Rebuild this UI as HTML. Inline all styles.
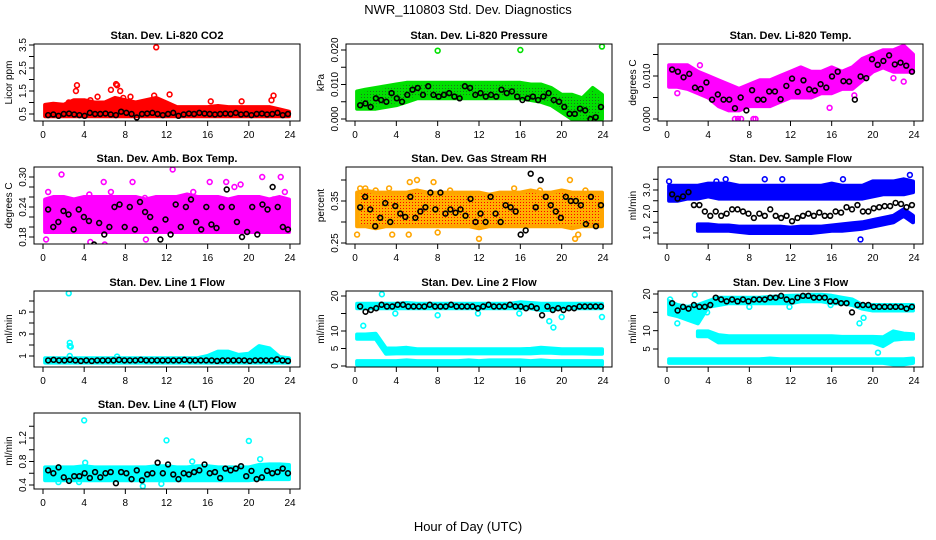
<!DOCTYPE html>
<html><head><meta charset="utf-8"><title>NWR_110803 Std. Dev. Diagnostics</title>
<style>
html,body{margin:0;padding:0;background:#fff;}
svg{display:block;font-family:"Liberation Sans",Arial,sans-serif;}
</style></head>
<body>
<svg id="chart" width="936" height="540" viewBox="0 0 936 540" xmlns="http://www.w3.org/2000/svg">
<defs>
<pattern id="pg" width="3" height="3" patternUnits="userSpaceOnUse"><rect width="3" height="3" fill="#00e000"/><rect x="1" y="1" width="1" height="1" fill="#207020"/></pattern>
<pattern id="po" width="3" height="3" patternUnits="userSpaceOnUse"><rect width="3" height="3" fill="#ffb000"/><rect x="1" y="1" width="1" height="1" fill="#ff0000"/></pattern>
</defs>
<text x="468" y="14" text-anchor="middle" font-size="13">NWR_110803  Std. Dev. Diagnostics</text>
<text x="468" y="531" text-anchor="middle" font-size="13">Hour of Day (UTC)</text>
</svg>
<script>
// ---------- data ----------
const xTicks = [0,4,8,12,16,20,24];
const bandHours = [0,1,2,3,4,5,6,7,8,9,10,11,12,13,14,15,16,17,18,19,20,21,22,23,24];

// P1 CO2
const co2Ticks = [0.5,1.0,1.5,2.0,2.5,3.0,3.5];
const co2Labels = ["0.5","","1.5","","2.5","","3.5"];
const co2Lo = [0.4,0.4,0.4,0.4,0.4,0.4,0.4,0.4,0.4,0.4,0.4,0.4,0.4,0.4,0.4,0.4,0.4,0.4,0.4,0.4,0.4,0.4,0.4,0.4,0.4];
const co2Hi = [0.9,0.95,0.9,1.1,1.1,1.0,1.0,1.2,1.1,1.0,1.1,1.2,1.0,0.8,0.8,0.8,0.8,0.85,0.8,0.8,0.8,0.8,0.8,0.7,0.6];
const co2Out = [[11,3.4],[3.3,1.75],[3.2,1.5],[7.2,1.75],[7.1,1.8],[6.6,1.55],[7.5,1.5],[10.8,1.3],[12.3,1.35],[8.5,1.25],[19.3,1.05],[22.4,1.3],[22.2,1.1],[16.3,1.05],[5.3,1.25],[4.6,1.1],[7.8,1.2],[2.5,1.0]];
const co2Black = [0.45,0.48,0.42,0.5,0.52,0.48,0.45,0.42,0.55,0.5,0.5,0.52,0.48,0.45,0.6,0.55,0.5,0.35,0.5,0.52,0.55,0.5,0.45,0.5,0.55,0.42,0.48,0.52,0.5,0.55,0.52,0.5,0.48,0.5,0.52,0.5,0.55,0.48,0.5,0.45,0.5,0.52,0.48,0.5,0.55,0.45,0.5];

// P2 pressure
const prTicks = [0,0.005,0.010,0.015,0.020];
const prLabels = ["0.000","","0.010","","0.020"];
const prLo = [0.003,0.003,0.003,0.0035,0.004,0.005,0.006,0.006,0.006,0.006,0.006,0.006,0.006,0.006,0.006,0.006,0.006,0.0055,0.005,0.004,0.002,0.000,-0.0005,-0.0005,0.000];
const prHi = [0.008,0.0085,0.009,0.0095,0.010,0.0105,0.0105,0.0105,0.0105,0.0105,0.0105,0.0105,0.0105,0.0105,0.0105,0.0105,0.0105,0.010,0.010,0.009,0.007,0.007,0.006,0.009,0.007];
const prOut = [[8,0.0198],[16,0.020],[23.9,0.021]];
const prBlack = [0.004,0.0045,0.0035,0.006,0.0055,0.005,0.0075,0.006,0.005,0.007,0.0085,0.009,0.007,0.0095,0.007,0.0065,0.007,0.0075,0.0065,0.006,0.0095,0.009,0.007,0.0075,0.0065,0.007,0.0065,0.0085,0.0075,0.008,0.0065,0.0055,0.006,0.0065,0.0055,0.0065,0.0075,0.0055,0.005,0.0035,0.0015,0.0015,0.003,0.0025,0.000,0.0005,0.0035];

// P3 temp
const tpTicks = [0,0.005,0.010,0.015];
const tpLabels = ["0.000","","0.010",""];
const tpLo = [0.0075,0.0075,0.007,0.006,0.005,0.003,0.002,0.002,0.003,0.003,0.003,0.004,0.005,0.005,0.005,0.006,0.006,0.007,0.007,0.009,0.011,0.012,0.011,0.011,0.011];
const tpHi = [0.0125,0.0125,0.0125,0.011,0.010,0.009,0.008,0.007,0.008,0.009,0.009,0.010,0.011,0.012,0.011,0.011,0.012,0.011,0.012,0.014,0.015,0.016,0.016,0.017,0.015];
const tpOut = [[6.6,0],[6.9,0],[7.2,0],[8.4,0],[8.6,0],[1.0,0.006],[3.2,0.0125],[15.8,0.0026],[22.0,0.0095],[23.0,0.0087],[18.2,0.0055]];
const tpBlack = [0.0115,0.011,0.0097,0.0105,0.0073,0.007,0.0085,0.0045,0.0057,0.0045,0.0045,0.0025,0.005,0.002,0.0067,0.0045,0.0045,0.0064,0.0064,0.0046,0.0077,0.0094,0.0063,0.009,0.0069,0.0066,0.0081,0.0073,0.0099,0.011,0.0088,0.0087,0.0045,0.0099,0.0095,0.0139,0.0126,0.0135,0.0148,0.0127,0.0131,0.0124,0.011];

// P4 amb box temp
const abTicks = [0.18,0.20,0.22,0.24,0.26,0.28,0.30];
const abLabels = ["0.18","","","0.24","","","0.30"];
const abLo = [0.19,0.19,0.19,0.19,0.19,0.19,0.19,0.19,0.19,0.19,0.19,0.19,0.19,0.19,0.19,0.19,0.19,0.19,0.19,0.19,0.19,0.19,0.19,0.19,0.19];
const abHi = [0.255,0.26,0.26,0.255,0.26,0.26,0.26,0.26,0.26,0.26,0.255,0.26,0.26,0.26,0.265,0.26,0.26,0.26,0.255,0.26,0.26,0.26,0.255,0.26,0.255];
const abOut = [[0.3,0.175],[0.5,0.27],[1.8,0.305],[4.5,0.265],[5.9,0.29],[6.6,0.27],[8.7,0.29],[9.9,0.258],[12.6,0.315],[14.6,0.27],[16.2,0.29],[17.8,0.29],[18.6,0.28],[19.2,0.285],[21.3,0.3],[22.4,0.255],[23.1,0.3],[4.6,0.17],[6.0,0.165],[10.0,0.175],[13.2,0.16],[19.6,0.155],[23.5,0.27]];
const abBlack = [0.235,0.2,0.21,0.232,0.225,0.195,0.235,0.22,0.212,0.165,0.208,0.185,0.2,0.24,0.245,0.2,0.24,0.195,0.25,0.23,0.22,0.195,0.175,0.215,0.185,0.245,0.2,0.24,0.255,0.21,0.195,0.24,0.205,0.198,0.24,0.275,0.24,0.21,0.18,0.19,0.24,0.185,0.245,0.235,0.28,0.24,0.2,0.195];

// P5 gas stream RH
const rhTicks = [0.25,0.30,0.35,0.40];
const rhLabels = ["0.25","","0.35",""];
const rhLo = [0.29,0.29,0.285,0.29,0.29,0.29,0.29,0.29,0.29,0.29,0.29,0.29,0.285,0.29,0.29,0.29,0.29,0.29,0.29,0.29,0.29,0.285,0.29,0.29,0.29];
const rhHi = [0.37,0.375,0.37,0.37,0.37,0.37,0.375,0.37,0.37,0.37,0.37,0.37,0.37,0.365,0.37,0.37,0.37,0.375,0.37,0.37,0.375,0.37,0.37,0.37,0.37];
const rhOut = [[0.2,0.27],[0.5,0.38],[1.0,0.38],[2.0,0.375],[3.3,0.38],[5.3,0.395],[6.0,0.4],[7.6,0.395],[9.2,0.375],[3.6,0.27],[5.2,0.27],[8.0,0.275],[12.0,0.26],[15.4,0.38],[17.9,0.375],[20.8,0.4],[21.6,0.27],[22.3,0.375],[21.3,0.26]];
const rhBlack = [0.335,0.36,0.33,0.29,0.31,0.345,0.3,0.338,0.32,0.312,0.36,0.31,0.325,0.335,0.37,0.33,0.37,0.32,0.33,0.322,0.33,0.315,0.355,0.3,0.32,0.3,0.36,0.32,0.3,0.34,0.335,0.325,0.27,0.28,0.415,0.335,0.4,0.36,0.34,0.325,0.31,0.36,0.35,0.35,0.34,0.295,0.36,0.29,0.34];

// P6 sample flow
const sfTicks = [1.0,1.5,2.0,2.5,3.0,3.5];
const sfLabels = ["1.0","","2.0","","3.0",""];
const sfLoA = [2.5,2.5,2.6,2.6,2.7,2.6,2.6,2.6,2.6,2.6,2.6,2.6,2.6,2.6,2.6,2.6,2.6,2.6,2.6,2.6,2.7,2.8,2.8,2.8,2.9];
const sfHiA = [3.2,3.2,3.2,3.2,3.3,3.3,3.3,3.2,3.2,3.2,3.2,3.2,3.2,3.2,3.2,3.2,3.3,3.2,3.2,3.2,3.4,3.4,3.4,3.5,3.4];
const sfLoB = [null,null,null,1.1,1.1,1.1,1.1,1.05,1.0,1.0,1.0,1.0,1.0,1.0,1.0,1.05,1.1,1.1,1.15,1.2,1.3,1.4,1.5,1.8,1.5];
const sfHiB = [null,null,null,1.4,1.4,1.35,1.35,1.3,1.3,1.3,1.3,1.3,1.25,1.3,1.3,1.3,1.35,1.4,1.45,1.5,1.6,1.7,1.8,2.1,1.8];
const sfOut = [[18.8,0.7],[0.2,3.4],[5.7,3.5],[9.5,3.5],[17.1,3.5],[23.6,3.7],[11.2,3.5],[4.8,3.4]];
const sfBlack = [2.8,2.6,2.7,2.9,2.3,2.3,2.0,1.8,2.0,1.8,1.9,2.1,2.1,2.0,1.9,1.7,1.9,1.8,2.1,1.8,1.7,1.8,1.55,1.7,1.8,1.9,1.8,1.95,1.8,1.8,2.0,1.95,2.2,2.1,2.3,2.0,2.0,2.15,2.2,2.25,2.25,2.4,2.35,2.2,2.3];

// P7 line 1 flow
const l1Ticks = [1,2,3,4,5,6];
const l1Labels = ["1","","3","","5",""];
const l1Lo = [0.4,0.4,0.4,0.4,0.4,0.4,0.4,0.4,0.4,0.4,0.4,0.4,0.4,0.4,0.4,0.4,0.4,0.4,0.4,0.4,0.4,0.4,0.4,0.4,0.4];
const l1Hi = [0.8,0.8,0.8,0.8,0.8,0.8,0.8,0.8,0.8,0.8,0.8,0.8,0.8,0.8,0.8,0.8,1.0,1.4,1.4,1.1,1.2,1.9,1.7,0.9,0.8];
const l1Out = [[2.5,6.7],[2.6,2.2],[2.6,1.9],[2.7,1.85],[2.6,1.0],[7.2,0.95]];
const l1Black = [0.6,0.65,0.6,0.6,0.65,0.6,0.55,0.6,0.55,0.6,0.6,0.6,0.6,0.65,0.6,0.6,0.6,0.65,0.6,0.6,0.6,0.6,0.6,0.6,0.6,0.65,0.6,0.6,0.6,0.6,0.6,0.55,0.6,0.6,0.6,0.6,0.6,0.55,0.6,0.6,0.6,0.6,0.7,0.6,0.55];

// P8 line 2 flow
const l2Ticks = [0,5,10,15,20];
const l2Labels = ["0","5","10","","20"];
const l2LoA = [16.5,16.5,16.5,16.5,16.5,16.5,16.5,16.5,16.5,16.5,16.5,16.5,16.5,16.5,16.5,16.5,16.5,16.5,16,16,16.5,16.5,16.5,16.5,16.5];
const l2HiA = [17.8,17.8,17.8,17.8,17.8,18,17.8,17.8,17.8,17.8,17.8,17.8,17.8,17.8,17.8,17.8,18.2,18,17.8,17.8,17.8,17.8,17.8,17.8,17.8];
const l2LoB = [7.8,7.8,7.8,3.5,3.6,3.6,3.6,3.6,3.6,3.6,3.6,3.6,3.6,3.6,3.6,3.6,3.6,3.6,3.8,3.8,3.6,3.6,3.6,3.5,3.5];
const l2HiB = [9,9,9.2,5,5,5.2,4.8,4.8,4.8,4.8,4.8,4.8,4.8,4.8,4.8,4.8,4.8,4.9,5.2,5,4.8,4.8,4.8,4.8,4.8];
const l2LoC = [0.4,0.4,0.4,0.4,0.4,0.4,0.4,0.4,0.4,0.4,0.4,0.4,0.4,0.4,0.4,0.4,0.4,0.4,0.4,0.4,0.4,0.0,0.4,0.4,0.4];
const l2HiC = [1.4,1.4,1.4,1.4,1.4,1.6,1.4,1.4,1.4,1.4,1.4,1.6,1.4,1.6,1.6,1.6,1.6,1.4,1.6,1.4,1.4,1.4,1.4,1.4,1.4];
const l2Out = [[2.6,20.5],[0.8,11.5],[3.9,15],[8.0,14.5],[11.9,15],[15.9,15],[18.8,12.8],[19.2,11],[20,14],[23.9,14]];
const l2Black = [17,15.5,16,16.5,17.5,17,17,17.5,17.5,17,17,17,17,17.5,17,17,17,17.5,17,17,17,17,16.5,17,17.5,17,17,17,17.5,17,17,16.5,17,16.5,14.5,17,16,16.5,16,16.5,16.5,17,17,17,17,17];

// P9 line 3 flow
const l3Ticks = [5,10,15,20];
const l3Labels = ["5","10","","20"];
const l3LoA = [14.5,14,13,12,16.5,17,17.5,17.5,17.5,17.5,17.5,17.5,17.5,18,18,18,17.5,17.5,17,16,15.5,15.5,15.5,15.5,15.5];
const l3HiA = [18,17,16.5,17,18,19,19,19,19,19,19.2,19.4,19.5,19.6,19.8,19.8,19.5,19,18.5,17,17,17,17,17,17];
const l3LoB = [null,null,null,8.5,8.5,6.8,6.8,6.8,6.8,6.8,6.8,6.8,6.8,6.8,6.8,6.8,6.8,6.8,6.8,6.8,6.8,5.8,7.5,7.8,7.8];
const l3HiB = [null,null,null,9.8,9.8,8.8,8.5,8.5,8.5,8.5,8.5,8.5,8.5,8.5,8.5,8.5,8.5,8.3,8.3,8.3,8.3,8.2,9.8,9.2,9];
const l3LoC = [1.2,1.2,1.2,1.2,1.2,1.2,1.2,1.2,1.2,1.2,1.2,1.2,1.2,1.2,1.2,1.2,1.2,1.2,1.2,1.2,1.2,1.2,0.8,0.8,1.2];
const l3HiC = [2.2,2.2,2.2,2.2,2.2,2.2,2.2,2.2,2.2,2.2,2.4,2.2,2.2,2.2,2.2,2.2,2.2,2.2,2.2,2.2,2.2,2.2,2.2,2.2,2.4];
const l3Out = [[0.3,18.5],[2.7,19.8],[1.0,12],[3.9,15],[8.0,16.5],[11.9,16.5],[15.9,17],[18.7,12],[19.1,13.5],[20.5,4]];
const l3Black = [17.5,15.5,16.5,16,17,16.5,16.5,17,19,18.5,18,18.5,18,18.5,18,18.5,18.5,18.5,19,19,19.5,18.5,18,19,19.5,19.5,19,19,19,18,18,17.5,17.5,15,17,17,17,16.5,16.5,16.5,16.5,16.5,16.5,16,16.5];

// P10 line 4 flow
const l4Ticks = [0.4,0.6,0.8,1.0,1.2,1.4];
const l4Labels = ["0.4","","0.8","","1.2",""];
const l4Lo = [0.48,0.48,0.48,0.48,0.48,0.48,0.48,0.48,0.48,0.48,0.48,0.48,0.48,0.48,0.48,0.48,0.48,0.48,0.48,0.48,0.48,0.5,0.5,0.5,0.5];
const l4Hi = [0.7,0.7,0.7,0.7,0.72,0.7,0.7,0.7,0.7,0.7,0.7,0.72,0.72,0.7,0.7,0.72,0.72,0.7,0.7,0.7,0.7,0.74,0.75,0.75,0.74];
const l4Out = [[4,1.5],[12,1.16],[20,1.15],[11.5,0.42],[9.7,0.38],[21.1,0.84],[4.1,0.78],[14.5,0.8],[1.5,0.45],[3.5,0.45]];
const l4Black = [0.65,0.6,0.7,0.53,0.47,0.55,0.55,0.6,0.52,0.62,0.53,0.6,0.62,0.43,0.62,0.6,0.5,0.65,0.48,0.58,0.6,0.78,0.6,0.75,0.58,0.5,0.6,0.58,0.62,0.65,0.75,0.6,0.62,0.52,0.68,0.65,0.68,0.72,0.55,0.64,0.5,0.53,0.64,0.6,0.62,0.68,0.6];

// ---------- rendering ----------
const NS = "http://www.w3.org/2000/svg";
const svg = document.getElementById("chart");
function mk(tag, attrs, parent){
  const e = document.createElementNS(NS, tag);
  for (const k in attrs) e.setAttribute(k, attrs[k]);
  (parent||svg).appendChild(e);
  return e;
}

function panel(p){
  const g = mk("g", {});
  
  
  const [L,T,R,B] = p.box;
  const sx = h => p.x0 + h*(p.x24-p.x0)/24;
  const sy = v => p.ya[1] + (v-p.ya[0])*(p.yb[1]-p.ya[1])/(p.yb[0]-p.ya[0]);
  const clip = "clip-" + p.id;
  const cp = mk("clipPath", {id: clip}, g);
  mk("rect", {x:L, y:T, width:R-L, height:B-T}, cp);
  const data = mk("g", {"clip-path":"url(#"+clip+")"}, g);
  // bands
  p.bands.forEach((bd, bi) => {
    const up = [], dn = [];
    bandHours.forEach((h,i) => {
      if (bd.lo[i] === null || bd.lo[i] === undefined) return;
      const hh = Math.min(Math.max(h, bd.from||0.2), 23.9);
      up.push(sx(hh).toFixed(1)+","+sy(bd.hi[i]).toFixed(1));
      dn.unshift(sx(hh).toFixed(1)+","+sy(bd.lo[i]).toFixed(1));
    });
    const poly = mk("polygon", {points: up.concat(dn).join(" "), fill: p.fill, stroke: p.color, "stroke-width": 4, "stroke-linejoin":"round"}, data);
    
    
  });
  // outliers
  p.out.forEach(([h,v]) => {
    const c = mk("circle", {cx:sx(h), cy:sy(v), r:2.4, fill:"none", stroke:p.color, "stroke-width":1.6}, data);
    
    
  });
  // black series
  const n = p.black.length;
  p.black.forEach((v,i) => {
    const h = 0.5 + i*(23.3/(n-1));
    const c = mk("circle", {cx:sx(h), cy:sy(v), r:2.4, fill:"none", stroke:"#000", "stroke-width":1.6}, data);
    
    
  });
  // box
  const box = mk("rect", {x:L, y:T, width:R-L, height:B-T, fill:"none", stroke:"#000", "stroke-width":1}, g);
  
  
  // x axis
  const xa = mk("g", {}, g);
  
  
  xTicks.forEach(t => {
    mk("line", {x1:sx(t), x2:sx(t), y1:B, y2:B+5, stroke:"#000"}, xa);
    mk("text", {x:sx(t), y:B+17, "text-anchor":"middle", "font-size":10}, xa).textContent = t;
  });
  // y axis
  const ya = mk("g", {}, g);
  
  
  p.ticks.forEach((t,i) => {
    const y = sy(t);
    mk("line", {x1:L-5, x2:L, y1:y, y2:y, stroke:"#000"}, ya);
    if (p.labels[i]) {
      mk("text", {x:0, y:0, "text-anchor":"middle", "font-size":10, transform:"translate("+(L-8)+","+y+") rotate(-90)"}, ya).textContent = p.labels[i];
    }
  });
  const yt = mk("text", {x:0, y:0, "text-anchor":"middle", "font-size":10, transform:"translate("+(L-22)+","+((T+B)/2)+") rotate(-90)"}, g);
  yt.textContent = p.ylab;
  
  
  const tt = mk("text", {x:(L+R)/2, y:T-5, "text-anchor":"middle", "font-size":11, "font-weight":"bold"}, g);
  tt.textContent = p.title;
  
  
}

const C1=[34,300,43,290], C2=[346,612,355,603], C3=[658,923,667,914];
const R1=[44,121], R2=[167,244], R3=[291,367], R4=[413,489];
function bx(c,r){return [c[0],r[0],c[1],r[1]];}

panel({id:"co2", title:"Stan. Dev. Li-820 CO2", ylab:"Licor ppm", box:bx(C1,R1), x0:C1[2], x24:C1[3], ya:[0.5,114], yb:[3.5,45], ticks:co2Ticks, labels:co2Labels, color:"#ff0000", fill:"#ff0000", bands:[{lo:co2Lo,hi:co2Hi}], out:co2Out, black:co2Black});
panel({id:"pressure", title:"Stan. Dev. Li-820 Pressure", ylab:"kPa", box:bx(C2,R1), x0:C2[2], x24:C2[3], ya:[0,119], yb:[0.02,50], ticks:prTicks, labels:prLabels, color:"#00e000", fill:"url(#pg)", bands:[{lo:prLo,hi:prHi}], out:prOut, black:prBlack});
panel({id:"temp", title:"Stan. Dev. Li-820 Temp.", ylab:"degrees C", box:bx(C3,R1), x0:C3[2], x24:C3[3], ya:[0,119], yb:[0.01,76], ticks:tpTicks, labels:tpLabels, color:"#ff00ff", fill:"#ff00ff", bands:[{lo:tpLo,hi:tpHi}], out:tpOut, black:tpBlack});
panel({id:"ambbox", title:"Stan. Dev. Amb. Box Temp.", ylab:"degrees C", box:bx(C1,R2), x0:C1[2], x24:C1[3], ya:[0.18,237], yb:[0.30,177], ticks:abTicks, labels:abLabels, color:"#ff00ff", fill:"#ff00ff", bands:[{lo:abLo,hi:abHi}], out:abOut, black:abBlack});
panel({id:"rh", title:"Stan. Dev. Gas Stream RH", ylab:"percent", box:bx(C2,R2), x0:C2[2], x24:C2[3], ya:[0.25,243], yb:[0.35,201], ticks:rhTicks, labels:rhLabels, color:"#ffa500", fill:"url(#po)", bands:[{lo:rhLo,hi:rhHi}], out:rhOut, black:rhBlack});
panel({id:"sampleflow", title:"Stan. Dev. Sample Flow", ylab:"ml/min", box:bx(C3,R2), x0:C3[2], x24:C3[3], ya:[1.0,233], yb:[3.0,190], ticks:sfTicks, labels:sfLabels, color:"#0000ff", fill:"#0000ff", bands:[{lo:sfLoA,hi:sfHiA},{lo:sfLoB,hi:sfHiB,from:2.7}], out:sfOut, black:sfBlack});
panel({id:"line1", title:"Stan. Dev. Line 1 Flow", ylab:"ml/min", box:bx(C1,R3), x0:C1[2], x24:C1[3], ya:[1,356], yb:[5,312], ticks:l1Ticks, labels:l1Labels, color:"#00ffff", fill:"#00ffff", bands:[{lo:l1Lo,hi:l1Hi}], out:l1Out, black:l1Black});
panel({id:"line2", title:"Stan. Dev. Line 2 Flow", ylab:"ml/min", box:bx(C2,R3), x0:C2[2], x24:C2[3], ya:[0,366], yb:[20,296], ticks:l2Ticks, labels:l2Labels, color:"#00ffff", fill:"#00ffff", bands:[{lo:l2LoA,hi:l2HiA},{lo:l2LoB,hi:l2HiB},{lo:l2LoC,hi:l2HiC}], out:l2Out, black:l2Black});
panel({id:"line3", title:"Stan. Dev. Line 3 Flow", ylab:"ml/min", box:bx(C3,R3), x0:C3[2], x24:C3[3], ya:[5,349], yb:[20,294], ticks:l3Ticks, labels:l3Labels, color:"#00ffff", fill:"#00ffff", bands:[{lo:l3LoA,hi:l3HiA},{lo:l3LoB,hi:l3HiB,from:2.7},{lo:l3LoC,hi:l3HiC}], out:l3Out, black:l3Black});
panel({id:"line4", title:"Stan. Dev. Line 4 (LT) Flow", ylab:"ml/min", box:bx(C1,R4), x0:C1[2], x24:C1[3], ya:[0.4,485], yb:[1.2,438], ticks:l4Ticks, labels:l4Labels, color:"#00ffff", fill:"#00ffff", bands:[{lo:l4Lo,hi:l4Hi}], out:l4Out, black:l4Black});
</script>
</body></html>
